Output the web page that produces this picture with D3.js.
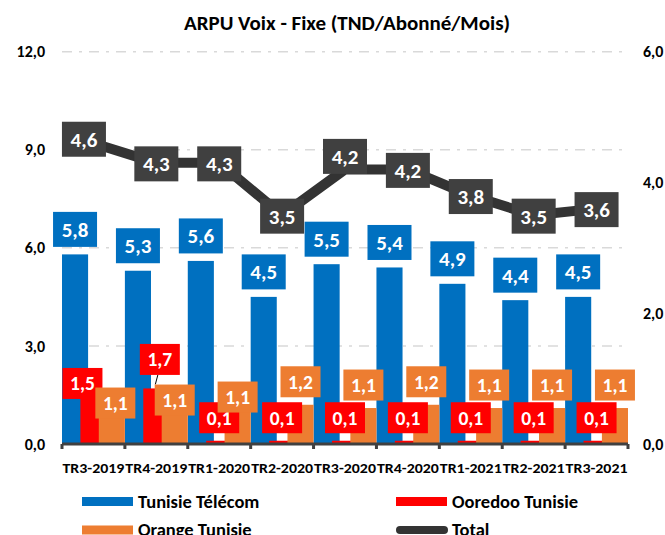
<!DOCTYPE html>
<html>
<head>
<meta charset="utf-8">
<script src="https://cdn.jsdelivr.net/npm/d3@7"></script>
<style>
  body { margin: 0; background: #fff; }
  text { font-family: Calibri, Carlito, Lato, sans-serif; font-weight: bold; }
</style>
</head>
<body>
<div id="chart"></div>
<script>
// données
const categories = ['TR3-2019', 'TR4-2019', 'TR1-2020', 'TR2-2020', 'TR3-2020', 'TR4-2020', 'TR1-2021', 'TR2-2021', 'TR3-2021']
const tunisieTelecom = [5.8, 5.3, 5.6, 4.5, 5.5, 5.4, 4.9, 4.4, 4.5]
const ooredooTunisie = [1.5, 1.7, 0.1, 0.1, 0.1, 0.1, 0.1, 0.1, 0.1]
const orangeTunisie = [1.1, 1.1, 1.1, 1.2, 1.1, 1.2, 1.1, 1.1, 1.1]
const total = [4.6, 4.3, 4.3, 3.5, 4.2, 4.2, 3.8, 3.5, 3.6]
const leftTicks = [0, 3, 6, 9, 12]
const rightTicks = [0, 2, 4, 6]

const width = 665, height = 535
const plot = { left: 62, right: 628, top: 51.7, bottom: 444 }

// labels moved by hand in the original (dx, dy)
const labelNudge = {
    ooredoo: { 0: [-11, 11.5], 1: [3.5, -6] },
    orange: { 0: [3.5, 18], 1: [0, 15], 2: [0, 12] },
    total: { 0: [-9.5, -5], 4: [0, -14] }
}

const fmt = v => d3.format('.1f')(v).replace('.', ',')

const svg = d3.select('#chart').append('svg')
    .attr('width', width)
    .attr('height', height)
svg.append('rect').attr('width', width).attr('height', height).attr('fill', '#fff')

const x = d3.scaleBand().domain(categories).range([plot.left, plot.right]).padding(0)
const yL = d3.scaleLinear().domain([0, 12]).range([plot.bottom, plot.top])
const yR = d3.scaleLinear().domain([0, 6]).range([plot.bottom, plot.top])

const bw = x.bandwidth()
const barW = bw * 0.415
const step = (bw - barW) / 2

// titre
svg.append('text')
    .attr('x', 347).attr('y', 30)
    .attr('text-anchor', 'middle')
    .attr('font-size', 21)
    .attr('fill', '#000')
    .text('ARPU Voix - Fixe (TND/Abonné/Mois)')

// grille
svg.append('g').selectAll('line')
    .data(leftTicks.filter(d => d > 0))
    .enter().append('line')
    .attr('x1', plot.left).attr('x2', plot.right)
    .attr('y1', d => yL(d)).attr('y2', d => yL(d))
    .attr('stroke', '#d9d9d9')
    .attr('stroke-width', 1.5)
    .attr('stroke-dasharray', '10,7,3,7')

// axes
svg.append('g').selectAll('text')
    .data(leftTicks)
    .enter().append('text')
    .attr('x', 45).attr('y', d => yL(d))
    .attr('dy', '0.35em')
    .attr('text-anchor', 'end')
    .attr('font-size', 16)
    .text(fmt)

svg.append('g').selectAll('text')
    .data(rightTicks)
    .enter().append('text')
    .attr('x', 643).attr('y', d => yR(d))
    .attr('dy', '0.35em')
    .attr('font-size', 16)
    .text(fmt)

// barres
const series = [
    { key: 'tt', values: tunisieTelecom, color: '#0070C0', boxW: 44, boxH: 35, fs: 21 },
    { key: 'ooredoo', values: ooredooTunisie, color: '#FF0000', boxW: 40, boxH: 31, fs: 19.5 },
    { key: 'orange', values: orangeTunisie, color: '#ED7D31', boxW: 40, boxH: 31, fs: 19.5 }
]

series.forEach((s, si) => {
    svg.append('g').selectAll('rect')
        .data(s.values)
        .enter().append('rect')
        .attr('x', (d, i) => x(categories[i]) + si * step)
        .attr('y', d => yL(d))
        .attr('width', barW)
        .attr('height', d => plot.bottom - yL(d))
        .attr('fill', s.color)
})

// axe des x
svg.append('line')
    .attr('x1', plot.left).attr('x2', plot.right)
    .attr('y1', plot.bottom).attr('y2', plot.bottom)
    .attr('stroke', '#404040').attr('stroke-width', 3)
svg.append('g').selectAll('rect')
    .data(d3.range(categories.length + 1))
    .enter().append('rect')
    .attr('x', i => plot.left + i * bw - 1.5)
    .attr('y', plot.bottom)
    .attr('width', 3).attr('height', 5)
    .attr('fill', '#404040')

svg.append('g').selectAll('text')
    .data(categories)
    .enter().append('text')
    .attr('x', d => x(d) + bw / 2)
    .attr('y', 468)
    .attr('dy', '0.35em')
    .attr('text-anchor', 'middle')
    .attr('font-size', 14.5)
    .attr('textLength', bw - 1)
    .attr('lengthAdjust', 'spacingAndGlyphs')
    .text(d => d)

// ligne total
const line = d3.line()
    .x((d, i) => x(categories[i]) + bw / 2)
    .y(d => yR(d))
svg.append('path')
    .datum(total)
    .attr('d', line)
    .attr('fill', 'none')
    .attr('stroke', '#333333')
    .attr('stroke-width', 10)
    .attr('stroke-linejoin', 'round')

// étiquettes
function drawLabels(key, values, cx, cy, color, boxW, boxH, fs) {
    const g = svg.append('g')
    values.forEach((v, i) => {
        const n = (labelNudge[key] || {})[i] || [0, 0]
        const px = cx(v, i) + n[0]
        const py = cy(v, i) + n[1]
        const lg = g.append('g').attr('transform', 'translate(' + px + ',' + py + ')')
        lg.append('rect')
            .attr('x', -boxW / 2).attr('y', -boxH / 2)
            .attr('width', boxW).attr('height', boxH)
            .attr('fill', color)
        lg.append('text')
            .attr('text-anchor', 'middle')
            .attr('dy', '0.36em')
            .attr('font-size', fs)
            .attr('fill', '#fff')
            .text(fmt(v))
    })
}

series.forEach((s, si) => {
    const cx = (v, i) => x(categories[i]) + si * step + barW / 2
    const cy = v => yL(v) - 7.5 - s.boxH / 2
    if (s.key === 'ooredoo') {
        // trait de rappel pour l'étiquette déplacée
        const i = 1, n = labelNudge.ooredoo[1]
        svg.append('line')
            .attr('x1', cx(s.values[i], i) + n[0] - 2)
            .attr('y1', cy(s.values[i]) + n[1] + s.boxH / 2)
            .attr('x2', cx(s.values[i], i) - 1)
            .attr('y2', yL(s.values[i]) - 4)
            .attr('stroke', '#000').attr('stroke-width', 1)
    }
    drawLabels(s.key, s.values, cx, cy, s.color, s.boxW, s.boxH, s.fs)
})

drawLabels('total', total,
    (v, i) => x(categories[i]) + bw / 2,
    v => yR(v) + 1,
    '#404040', 44, 35, 21)

// légende
const legend = [
    { name: 'Tunisie Télécom', color: '#0070C0', type: 'rect', x: 82, y: 501.5 },
    { name: 'Ooredoo Tunisie', color: '#FF0000', type: 'rect', x: 396, y: 501.5 },
    { name: 'Orange Tunisie', color: '#ED7D31', type: 'rect', x: 82, y: 530 },
    { name: 'Total', color: '#333333', type: 'line', x: 396, y: 530 }
]
const lg = svg.append('g').selectAll('g')
    .data(legend)
    .enter().append('g')
    .attr('transform', d => 'translate(' + d.x + ',' + d.y + ')')
lg.filter(d => d.type === 'rect').append('rect')
    .attr('x', 0).attr('y', -4.5)
    .attr('width', 51).attr('height', 9)
    .attr('fill', d => d.color)
lg.filter(d => d.type === 'line').append('line')
    .attr('x1', 4).attr('x2', 48)
    .attr('y1', 0).attr('y2', 0)
    .attr('stroke', d => d.color)
    .attr('stroke-width', 8)
    .attr('stroke-linecap', 'round')
lg.append('text')
    .attr('x', 56).attr('dy', '0.35em')
    .attr('font-size', 18.5)
    .text(d => d.name)
</script>
</body>
</html>
